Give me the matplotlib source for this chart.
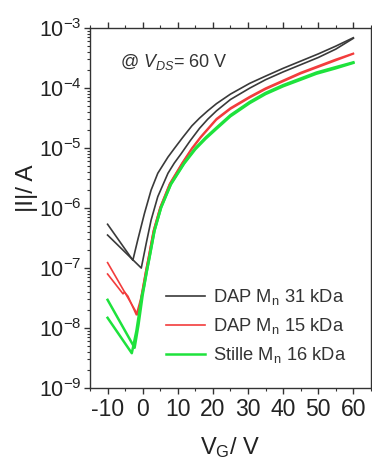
import matplotlib
matplotlib.use("Agg")
import matplotlib.pyplot as plt
from matplotlib.ticker import LogLocator, MultipleLocator, NullFormatter
import numpy as np

plt.rcParams['font.family'] = ['Liberation Sans', 'DejaVu Sans']
plt.rcParams['mathtext.fontset'] = 'custom'
plt.rcParams['mathtext.rm'] = 'Liberation Sans'
plt.rcParams['mathtext.it'] = 'Liberation Sans:italic'

# ---- data; currents given as log10(|I| / A) ----
# DAP Mn 31 kDa, two sweeps
vg_b31_a = [-10, -2.8, -1.4, 0.5, 2.4, 4.3, 7.2, 9.1, 11.3, 14, 16.2, 18.5, 21, 25, 30.5, 35, 40, 45, 50, 55, 60]
logi_b31_a = [-6.27, -6.87, -6.53, -6.09, -5.70, -5.42, -5.15, -5.00, -4.83, -4.63, -4.50, -4.38, -4.26,
              -4.10, -3.92, -3.80, -3.67, -3.55, -3.43, -3.30, -3.16]
vg_b31_b = [-10, -0.4, 1.0, 2.4, 4.3, 7.2, 9, 11, 13.5, 16.2, 18.5, 21, 25, 30.5, 35, 40, 45, 50, 55, 60]
logi_b31_b = [-6.45, -7.00, -6.59, -6.20, -5.81, -5.42, -5.25, -5.09, -4.88, -4.67, -4.52, -4.38,
              -4.19, -4.00, -3.86, -3.73, -3.61, -3.49, -3.35, -3.17]

# DAP Mn 15 kDa, two sweeps
vg_r15_a = [-10, -1.4, -0.4, 0.2, 0.9, 1.7, 3.1, 5.0, 7.7, 11.3, 14, 16.5, 21, 25, 30.5, 35, 40, 45, 50, 55, 60]
logi_r15_a = [-6.91, -7.78, -7.50, -7.28, -7.05, -6.81, -6.37, -5.98, -5.59, -5.24, -5.00, -4.81, -4.51,
              -4.33, -4.14, -4.00, -3.87, -3.74, -3.63, -3.52, -3.42]
vg_r15_b = [-10, -5.6, -5.2, -4.2, -1.8, -0.6, 0.1, 0.8, 1.6, 3.0, 4.9, 7.6, 11.2, 14, 16.5, 21, 25, 30.5,
            35, 40, 45, 50, 55, 60]
logi_r15_b = [-7.10, -7.43, -7.40, -7.47, -7.78, -7.52, -7.30, -7.07, -6.83, -6.39, -6.00, -5.61, -5.26,
              -5.02, -4.83, -4.53, -4.35, -4.16, -4.02, -3.89, -3.76, -3.65, -3.54, -3.43]

# Stille Mn 16 kDa, two sweeps
vg_g16_a = [-10, -2.3, -1.2, 0, 0.5, 1.2, 2.0, 3.4, 5.3, 8.1, 11.9, 15, 18, 21, 25, 30.5, 35, 40, 45, 49.5, 55, 60]
logi_g16_a = [-7.53, -8.33, -7.95, -7.45, -7.28, -7.05, -6.81, -6.37, -5.98, -5.59, -5.24, -5.00, -4.82,
              -4.66, -4.45, -4.23, -4.08, -3.95, -3.84, -3.74, -3.65, -3.57]
vg_g16_b = [-10, -3.1, -1.8, -0.3, 0.4, 1.1, 1.9, 3.3, 5.2, 8.0, 11.8, 15, 18, 21, 25, 30.5, 35, 40, 45, 49.5, 55, 60]
logi_g16_b = [-7.83, -8.42, -8.05, -7.48, -7.30, -7.07, -6.83, -6.39, -6.00, -5.61, -5.26, -5.02, -4.84,
              -4.68, -4.47, -4.25, -4.10, -3.97, -3.86, -3.76, -3.67, -3.58]

labels = ["DAP M$_\\mathregular{n}$ 31 kDa", "DAP M$_\\mathregular{n}$ 15 kDa", "Stille M$_\\mathregular{n}$ 16 kDa"]
xticks = [-10, 0, 10, 20, 30, 40, 50, 60]

c_black = '#3a3a3a'
c_red = '#f23c3c'
c_green = '#1ee23c'

fig = plt.figure(figsize=(3.72, 4.59), dpi=100)
ax = fig.add_axes([0.242, 0.1547, 0.755, 0.784])

def cur(logs):
    return 10.0 ** np.asarray(logs)

ax.plot(vg_b31_a, cur(logi_b31_a), color=c_black, lw=1.2, label=labels[0])
ax.plot(vg_b31_b, cur(logi_b31_b), color=c_black, lw=1.2)
ax.plot(vg_r15_a, cur(logi_r15_a), color=c_red, lw=1.2, label=labels[1])
ax.plot(vg_r15_b, cur(logi_r15_b), color=c_red, lw=1.2)
ax.plot(vg_g16_a, cur(logi_g16_a), color=c_green, lw=1.8, label=labels[2])
ax.plot(vg_g16_b, cur(logi_g16_b), color=c_green, lw=1.8)

ax.set_yscale('log')
ax.set_ylim(1e-9, 1e-3)
ax.set_xlim(-15, 65)
ax.set_xticks(xticks)
ax.set_xticklabels([str(t) for t in xticks])
ax.xaxis.set_minor_locator(MultipleLocator(5))
ax.yaxis.set_major_locator(LogLocator(base=10, numticks=10))
ax.yaxis.set_minor_locator(LogLocator(base=10, subs=np.arange(2, 10), numticks=10))
ax.yaxis.set_minor_formatter(NullFormatter())

ax.tick_params(axis='both', which='both', direction='out', color='#333333', labelcolor='#222222')
ax.tick_params(axis='x', which='both', top=True, labelsize=16.5)
ax.tick_params(axis='y', labelsize=15.5)
ax.tick_params(which='major', length=4, width=1)
ax.tick_params(which='minor', length=2.5, width=0.8)
ax.tick_params(axis='x', pad=3)
ax.tick_params(axis='y', pad=2)
for s in ax.spines.values():
    s.set_color('#333333')
    s.set_linewidth(1.0)

ax.set_ylabel('|I|/ A', fontsize=17.5, color='#222222')
ax.yaxis.set_label_coords(-0.185, 0.555)
ax.set_xlabel('V$_\\mathregular{G}$/ V', fontsize=17, labelpad=10, color='#222222')

ax.text(0.107, 0.905, '@ $V_{DS}$= 60 V', transform=ax.transAxes, fontsize=13,
        ha='left', va='center', color='#333333')

leg = ax.legend(loc='center left', bbox_to_anchor=(0.272, 0.172), frameon=False,
                fontsize=13.2, handlelength=2.1, handletextpad=0.42, labelspacing=0.5,
                borderpad=0, borderaxespad=0)
for t in leg.get_texts():
    t.set_color('#333333')

fig.savefig('out.png', dpi=100)
